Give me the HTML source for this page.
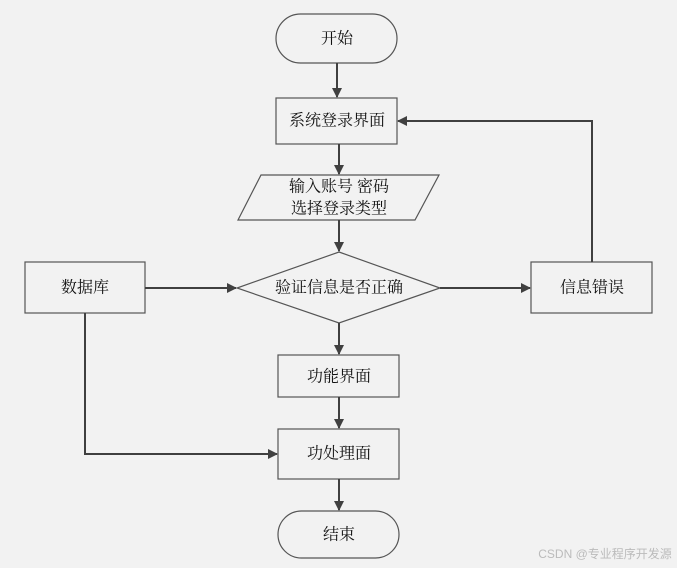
<!DOCTYPE html>
<html><head><meta charset="utf-8"><style>
body{margin:0;background:#f2f2f2;}
svg{display:block;}
text{font-family:"Liberation Serif","Noto Serif CJK SC","Noto Sans CJK SC",serif;font-size:16px;fill:#111;text-anchor:middle;dominant-baseline:central;}
</style></head><body>
<svg width="677" height="568" viewBox="0 0 677 568" xmlns="http://www.w3.org/2000/svg">
<defs><marker id="a" markerWidth="10" markerHeight="10" refX="9" refY="5" orient="auto" markerUnits="userSpaceOnUse"><path d="M0,0 L10,5 L0,10 z" fill="#404040"/></marker></defs>
<g fill="#f2f2f2" stroke="#555" stroke-width="1.2">
<rect x="276" y="14" width="121" height="49" rx="24.5"/>
<rect x="276" y="98" width="121" height="46"/>
<polygon points="261,175 439,175 415,220 238,220"/>
<rect x="25" y="262" width="120" height="51"/>
<polygon points="339,252 440,288 339,323 237,288"/>
<rect x="531" y="262" width="121" height="51"/>
<rect x="278" y="355" width="121" height="42"/>
<rect x="278" y="429" width="121" height="50"/>
<rect x="278" y="511" width="121" height="47" rx="23.5"/>
</g>
<g stroke="#404040" stroke-width="2" fill="none" marker-end="url(#a)">
<line x1="337" y1="63" x2="337" y2="97"/>
<line x1="339" y1="144" x2="339" y2="174"/>
<line x1="339" y1="220" x2="339" y2="251"/>
<line x1="145" y1="288" x2="236" y2="288"/>
<line x1="440" y1="288" x2="530" y2="288"/>
<polyline points="592,262 592,121 398,121"/>
<line x1="339" y1="323" x2="339" y2="354"/>
<line x1="339" y1="397" x2="339" y2="428"/>
<polyline points="85,313 85,454 277,454"/>
<line x1="339" y1="479" x2="339" y2="510"/>
</g>
<text x="337" y="39">开始</text>
<text x="337" y="121">系统登录界面</text>
<text x="339" y="187">输入账号 密码</text>
<text x="339" y="209">选择登录类型</text>
<text x="85" y="288">数据库</text>
<text x="339" y="288">验证信息是否正确</text>
<text x="592" y="288">信息错误</text>
<text x="339" y="377">功能界面</text>
<text x="339" y="454">功处理面</text>
<text x="339" y="535">结束</text>
<text x="605" y="554" style="font-size:12px;fill:#bbb;font-family:'Liberation Sans','Noto Sans CJK SC',sans-serif">CSDN @专业程序开发源</text>
</svg>
</body></html>
